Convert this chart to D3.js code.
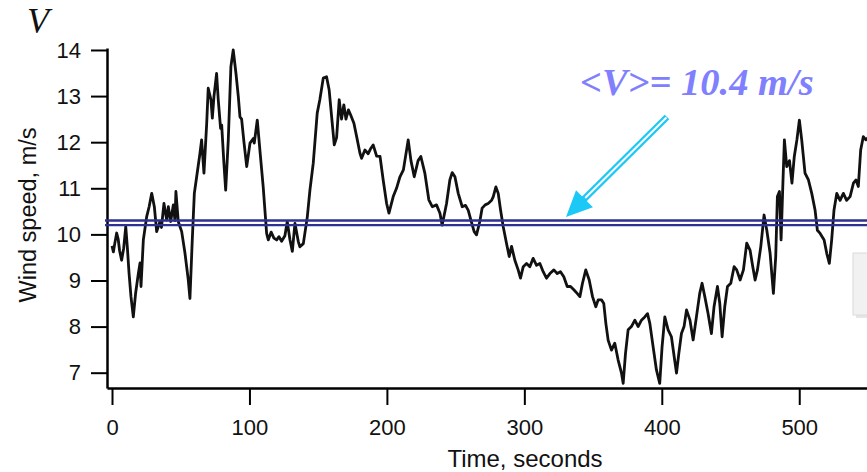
<!DOCTYPE html>
<html>
<head>
<meta charset="utf-8">
<script src="https://cdn.jsdelivr.net/npm/d3@7"></script>
<style>
  body { margin: 0; background: #fff; }
  svg { display: block; }
  .tick text { font-family: "Liberation Sans", Arial, sans-serif; }
</style>
</head>
<body>
<script>
// time (s) and wind speed (m/s)
var times = [0, 1, 2, 3.4, 4.5, 5.5, 7, 8.5, 10, 11.2, 12.4, 13.8, 15.5, 17.2, 19.2, 20.4, 21.1, 22.8, 25.2, 27,
  28.9, 30.8, 32.5, 34.9, 36, 37.8, 39.8, 41, 42.7, 44.6, 45.8, 46.5, 48.2, 50.7, 53.1, 55.5, 56.7, 58.4, 59.9, 61.6,
  64, 65.2, 66.9, 68.9, 70, 72, 73, 74.2, 76.1, 77.3, 79, 79.8, 81.3, 82.7, 84.6, 86.5, 88.2, 90.2, 91.9, 93.1,
  94.3, 96, 98, 100.4, 102.8, 103.5, 105.7, 107.6, 110, 112.5, 113.7, 115.8, 117.8, 119.8, 121.5, 123.4, 125.8, 127.5, 129.5, 131.2,
  133.1, 135.5, 136.7, 139.2, 142.1, 144, 146.4, 149.3, 151.2, 153.7, 156.1, 158, 159.8, 161.7, 163.4, 165.3, 167, 168.7, 170.2, 172,
  173.5, 176, 178, 180.4, 181.6, 184, 186.4, 188, 190, 192.5, 195, 197.3, 199.8, 201.5, 204.6, 207, 209.5, 212, 215.5, 217.5,
  219.9, 222.7, 224.7, 227.6, 230.5, 233, 236.1, 238.6, 240.2, 243.4, 245.8, 247.5, 249.5, 251.9, 254.8, 257.2, 259.2, 261.1, 263.5, 265.2,
  267.6, 269.3, 271.5, 273.7, 276.2, 277.4, 279.3, 281, 282.7, 284.6, 287, 289, 290.7, 293.1, 295.5, 297.2, 299.2, 301.6, 304, 306.4,
  308.9, 311.3, 313.7, 316.1, 318.6, 321.5, 323.9, 326.3, 328.7, 331.2, 333.6, 336, 338.4, 340.4, 342.3, 344.7, 347.2, 349.6, 352, 353.7,
  356.1, 357.8, 359.3, 361, 363.4, 365.8, 368.2, 370.7, 371.9, 373.6, 375.5, 377.9, 380.4, 382.8, 385.2, 387.6, 389.6, 391.3, 393.7, 396.1,
  398.5, 400.2, 402.2, 404.6, 407, 409, 410.7, 412.4, 414.3, 416.2, 418, 420.5, 422.8, 425.2, 427.6, 429.3, 431.3, 433.7, 436.1, 438,
  440.5, 442.2, 443.9, 445.8, 447.8, 450.2, 452.6, 454.5, 457, 459.4, 461.8, 464.2, 466.2, 467.9, 469.6, 472, 474.4, 476.4, 478.8, 481.2,
  482.9, 484.1, 485.6, 486.8, 488.1, 489.2, 490.9, 492.9, 494.7, 496.4, 498.3, 500.1, 501.8, 504.2, 506.7, 509.1, 511.5, 513.2, 515.2, 518.1,
  520, 521.9, 523.6, 525.3, 527.3, 529.7, 532.1, 534.5, 537, 539.4, 541.3, 543, 544.7, 546.6, 548.5, 550];

var speeds = [9.75, 9.62, 9.8, 10.03, 9.9, 9.65, 9.44, 9.7, 10.17, 9.7, 9.16, 8.65, 8.21, 8.73, 9.16, 9.38, 8.87, 9.88, 10.38, 10.6,
  10.89, 10.6, 10.06, 10.28, 10.15, 10.67, 10.31, 10.6, 10.28, 10.64, 10.3, 10.93, 10.28, 10.06, 9.59, 9.01, 8.61, 9.88, 10.89, 11.25,
  11.76, 12.05, 11.33, 12.41, 13.17, 12.92, 12.52, 13.0, 13.49, 12.92, 12.3, 12.37, 11.6, 10.96, 12.05, 13.64, 14.0, 13.49, 12.99, 12.55,
  12.5, 12.0, 11.47, 11.98, 12.08, 11.98, 12.48, 11.83, 11.03, 10.02, 9.88, 10.05, 9.92, 9.88, 9.95, 9.85, 9.97, 10.28, 9.88, 9.63,
  10.24, 9.85, 9.73, 9.8, 10.38, 10.96, 11.54, 12.63, 12.92, 13.39, 13.42, 13.13, 12.55, 11.94, 12.1, 12.92, 12.5, 12.81, 12.5, 12.7,
  12.6, 12.41, 12.12, 11.76, 11.65, 11.83, 11.75, 11.85, 11.94, 11.7, 11.69, 11.18, 10.67, 10.46, 10.82, 11.0, 11.25, 11.4, 12.05, 11.6,
  11.25, 11.6, 11.69, 11.33, 10.75, 10.6, 10.64, 10.46, 10.2, 10.67, 11.18, 11.34, 11.25, 10.89, 10.6, 10.63, 10.52, 10.31, 10.06, 9.99,
  10.28, 10.57, 10.64, 10.67, 10.74, 10.82, 11.03, 10.89, 10.53, 10.17, 9.81, 9.52, 9.74, 9.44, 9.23, 9.05, 9.3, 9.37, 9.3, 9.48,
  9.33, 9.37, 9.19, 9.05, 9.15, 9.23, 9.15, 9.19, 9.08, 8.87, 8.87, 8.8, 8.72, 8.65, 8.94, 9.23, 9.01, 8.65, 8.43, 8.58,
  8.58, 8.5, 8.07, 7.7, 7.49, 7.64, 7.28, 6.99, 6.77, 7.42, 7.93, 8.0, 8.14, 8.0, 8.14, 8.21, 8.28, 8.07, 7.56, 7.06,
  6.77, 7.56, 8.21, 7.93, 7.78, 7.35, 6.99, 7.42, 7.85, 8.0, 8.36, 8.14, 7.71, 8.21, 8.72, 8.94, 8.65, 8.28, 7.85, 8.43,
  8.87, 8.5, 7.78, 8.43, 8.87, 8.94, 9.3, 9.23, 9.01, 9.23, 9.81, 9.66, 9.3, 9.01, 9.23, 9.73, 10.42, 10.09, 9.59, 8.72,
  9.52, 10.82, 10.93, 9.88, 11.1, 12.05, 11.47, 11.6, 11.11, 11.69, 12.05, 12.48, 12.05, 11.33, 11.18, 10.89, 10.53, 10.09, 10.02, 9.88,
  9.59, 9.37, 9.88, 10.53, 10.89, 10.74, 10.89, 10.74, 10.82, 11.11, 11.18, 11.04, 11.83, 12.12, 12.05, 12.1];

var xTicks = [0, 100, 200, 300, 400, 500];
var yTicks = [7, 8, 9, 10, 11, 12, 13, 14];
var meanLines = [10.2, 10.3];
var meanLabel = "<V>= 10.4 m/s";

var W = 867, H = 472;
var svg = d3.select('body').append('svg')
  .attr('width', W)
  .attr('height', H);

var x = d3.scaleLinear().domain([-3.64, 549.3]).range([107, 867]);
var y = d3.scaleLinear().domain([6.668, 14.043]).range([388, 48]);

// AXES
var yAxis = svg.append('g')
  .attr('transform', 'translate(107,0)')
  .call(d3.axisLeft(y).tickValues(yTicks).tickSize(16).tickPadding(10).tickSizeOuter(0));
var xAxis = svg.append('g')
  .attr('transform', 'translate(0,388)')
  .call(d3.axisBottom(x).tickValues(xTicks).tickSize(17).tickPadding(14).tickSizeOuter(0));

[xAxis, yAxis].forEach(function(ax) {
  ax.select('.domain').attr('stroke', '#000').attr('stroke-width', 2.5);
  ax.selectAll('.tick line').attr('stroke', '#000').attr('stroke-width', 2);
  ax.selectAll('.tick text').attr('fill', '#111').style('font-size', '22px');
});

svg.append('text')
  .attr('x', 525)
  .attr('y', 467)
  .attr('text-anchor', 'middle')
  .style('font-family', '"Liberation Sans", Arial, sans-serif')
  .style('font-size', '24px')
  .attr('fill', '#111')
  .text('Time, seconds');

svg.append('text')
  .attr('transform', 'translate(36,215) rotate(-90)')
  .attr('text-anchor', 'middle')
  .style('font-family', '"Liberation Sans", Arial, sans-serif')
  .style('font-size', '23.5px')
  .attr('fill', '#111')
  .text('Wind speed, m/s');

svg.append('text')
  .attr('x', 27)
  .attr('y', 33)
  .style('font-family', '"Liberation Serif", "Times New Roman", serif')
  .style('font-style', 'italic')
  .style('font-size', '36px')
  .attr('fill', '#111')
  .text('V');

// WIND TRACE
var pts = times.map(function(t, i) { return [t, speeds[i]]; });
var line = d3.line()
  .x(function(d) { return x(d[0]); })
  .y(function(d) { return y(d[1]); });

svg.append('path')
  .datum(pts)
  .attr('d', line)
  .attr('fill', 'none')
  .attr('stroke', '#111')
  .attr('stroke-width', 2.8)
  .attr('stroke-linejoin', 'round');

// MEAN LINES
svg.selectAll('line.mean')
  .data(meanLines)
  .enter().append('line')
    .attr('class', 'mean')
    .attr('x1', 105)
    .attr('x2', W)
    .attr('y1', function(d) { return y(d); })
    .attr('y2', function(d) { return y(d); })
    .attr('stroke', '#2f3192')
    .attr('stroke-width', 2.4);

// leftover grey box at right edge
svg.append('rect')
  .attr('x', 856).attr('y', 256).attr('width', 20).attr('height', 62)
  .attr('fill', '#d6d6d6').attr('opacity', 0.6);
svg.append('rect')
  .attr('x', 853).attr('y', 253).attr('width', 20).attr('height', 62)
  .attr('fill', '#f1f1f1').attr('stroke', '#dadada').attr('stroke-width', 1);

// ANNOTATION
svg.append('text')
  .attr('x', 580)
  .attr('y', 95)
  .style('font-family', '"Liberation Serif", "Times New Roman", serif')
  .style('font-style', 'italic')
  .style('font-weight', 'bold')
  .style('font-size', '38.5px')
  .attr('fill', '#8080ff')
  .text(meanLabel);

var tail = [667, 117], tip = [566, 217];
var dx = tail[0] - tip[0], dy = tail[1] - tip[1];
var len = Math.sqrt(dx * dx + dy * dy), ux = dx / len, uy = dy / len;
var headLen = 26, headHalf = 12;
var base = [tip[0] + ux * headLen, tip[1] + uy * headLen];

svg.append('line')
  .attr('x1', tail[0]).attr('y1', tail[1])
  .attr('x2', base[0] - ux * 2).attr('y2', base[1] - uy * 2)
  .attr('stroke', '#1cc8f6').attr('stroke-width', 6.5);
svg.append('line')
  .attr('x1', tail[0] - ux * 0.8).attr('y1', tail[1] - uy * 0.8)
  .attr('x2', base[0] + ux * 1).attr('y2', base[1] + uy * 1)
  .attr('stroke', '#fff').attr('stroke-width', 2);
svg.append('path')
  .attr('d', 'M' + tip[0] + ',' + tip[1] +
    'L' + (base[0] - uy * headHalf) + ',' + (base[1] + ux * headHalf) +
    'L' + (base[0] + uy * headHalf) + ',' + (base[1] - ux * headHalf) + 'Z')
  .attr('fill', '#1cc8f6');
</script>
</body>
</html>
